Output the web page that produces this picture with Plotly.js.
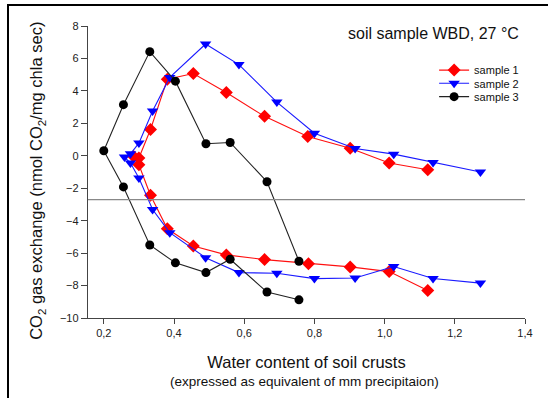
<!DOCTYPE html>
<html>
<head>
<meta charset="utf-8">
<script src="https://cdn.plot.ly/plotly-3.0.1.min.js"></script>
<style>
  html, body { margin: 0; padding: 0; background: #fff; }
  #chart { width: 548px; height: 398px; }
  #frame { position: absolute; left: 7px; top: 4px; right: 0; bottom: 0;
           border-top: 2px solid #000; border-left: 2px solid #000; pointer-events: none; }
</style>
</head>
<body>
<div id="chart"></div>
<div id="frame"></div>
<script>
// Sample 1 (red diamonds): lower branch (reversed) then upper branch
const sample1X = [1.123, 1.013, 0.902, 0.783, 0.658, 0.549, 0.455, 0.381, 0.333, 0.300, 0.285, 0.300, 0.333, 0.381, 0.455, 0.549, 0.658, 0.781, 0.902, 1.013, 1.123];
const sample1Y = [-8.30, -7.14, -6.85, -6.65, -6.40, -6.11, -5.56, -4.50, -2.43, -0.55, -0.04, -0.14, 1.62, 4.72, 5.07, 3.90, 2.43, 1.19, 0.47, -0.45, -0.86];

// Sample 2 (blue triangles)
const sample2X = [1.273, 1.138, 1.026, 0.916, 0.800, 0.693, 0.585, 0.490, 0.388, 0.339, 0.300, 0.276, 0.259, 0.276, 0.300, 0.339, 0.388, 0.490, 0.585, 0.693, 0.800, 0.916, 1.026, 1.138, 1.273];
const sample2Y = [-7.85, -7.57, -6.83, -7.53, -7.57, -7.24, -7.20, -6.28, -4.74, -3.31, -1.37, -0.45, -0.08, 0.12, 0.78, 2.76, 4.83, 6.89, 5.62, 3.31, 1.39, 0.45, 0.10, -0.41, -1.00];

// Sample 3 (black circles)
const sample3X = [0.756, 0.665, 0.560, 0.491, 0.404, 0.331, 0.256, 0.200, 0.256, 0.331, 0.404, 0.491, 0.560, 0.665, 0.756];
const sample3Y = [-8.88, -8.40, -6.38, -7.20, -6.60, -5.50, -1.92, 0.31, 3.15, 6.42, 4.60, 0.74, 0.82, -1.60, -6.50];

const seriesNames = ["sample 1", "sample 2", "sample 3"];
const referenceLevel = -2.7;
const xTicks = [0.2, 0.4, 0.6, 0.8, 1.0, 1.2, 1.4];
const yTicks = [-10, -8, -6, -4, -2, 0, 2, 4, 6, 8];

const FONT = "Liberation Sans, Arial, sans-serif";

const traces = [
  { x: sample1X, y: sample1Y, name: seriesNames[0], type: "scatter", mode: "lines+markers",
    line: { color: "#ff1010", width: 1.1 }, marker: { symbol: "diamond", size: 10, color: "#ff0000" }, legend: "legend" },
  { x: sample2X, y: sample2Y, name: seriesNames[1], type: "scatter", mode: "lines+markers",
    line: { color: "#1a1aff", width: 1.1 }, marker: { symbol: "triangle-down", size: 10, color: "#0000ff" }, legend: "legend2" },
  { x: sample3X, y: sample3Y, name: seriesNames[2], type: "scatter", mode: "lines+markers",
    line: { color: "#222222", width: 1.1 }, marker: { symbol: "circle", size: 9, color: "#000000" }, legend: "legend3" }
];

function legendAt(yPaper) {
  return { x: 0.792, xanchor: "left", y: yPaper, yanchor: "middle", bgcolor: "rgba(0,0,0,0)",
           borderwidth: 0, font: { family: FONT, size: 11, color: "#111" }, tracegroupgap: 0 };
}

const layout = {
  width: 548, height: 398,
  margin: { l: 88, r: 23, t: 26, b: 80 },
  paper_bgcolor: "#fff", plot_bgcolor: "#fff",
  separators: ",.",
  font: { family: FONT, color: "#111" },
  showlegend: true,
  legend: legendAt(0.849),
  legend2: legendAt(0.804),
  legend3: legendAt(0.758),
  xaxis: {
    range: [0.155, 1.4], tickvals: xTicks, tickformat: ".1f",
    showgrid: false, zeroline: false, showline: true, linecolor: "#444", linewidth: 1.2,
    ticks: "outside", ticklen: 5, tickcolor: "#444", tickwidth: 1,
    tickfont: { family: FONT, size: 11, color: "#222" },
    title: { text: "Water content of soil crusts", font: { family: FONT, size: 16.5, color: "#111" }, standoff: 18 }
  },
  yaxis: {
    range: [-10, 8], tickvals: yTicks,
    showgrid: false, zeroline: false, showline: true, linecolor: "#444", linewidth: 1.2,
    ticks: "outside", ticklen: 6, tickcolor: "#444", tickwidth: 1,
    tickfont: { family: FONT, size: 11, color: "#222" }
  },
  shapes: [
    { type: "line", xref: "paper", x0: 0, x1: 1, yref: "y", y0: referenceLevel, y1: referenceLevel,
      line: { color: "#888", width: 1.2 } }
  ],
  annotations: [
    { text: "soil sample WBD, 27 °C", xref: "paper", yref: "paper", x: 0.99, y: 0.973,
      xanchor: "right", yanchor: "middle", showarrow: false,
      font: { family: FONT, size: 16, color: "#111" } },
    { text: "CO<sub>2</sub> gas exchange (nmol CO<sub>2</sub>/mg chla sec)", textangle: -90,
      xref: "paper", yref: "paper", x: (37 - 88) / 437, y: (318.3 - 181) / 292.3,
      xanchor: "center", yanchor: "middle", showarrow: false,
      font: { family: FONT, size: 16.5, color: "#111" } },
    { text: "(expressed as equivalent of mm precipitaion)", xref: "paper", yref: "paper",
      x: (304 - 88) / 437, y: (318.3 - 382) / 292.3, xanchor: "center", yanchor: "middle",
      showarrow: false, font: { family: FONT, size: 13.5, color: "#111" } }
  ]
};

Plotly.newPlot("chart", traces, layout, { displayModeBar: false, staticPlot: true });
</script>
</body>
</html>
